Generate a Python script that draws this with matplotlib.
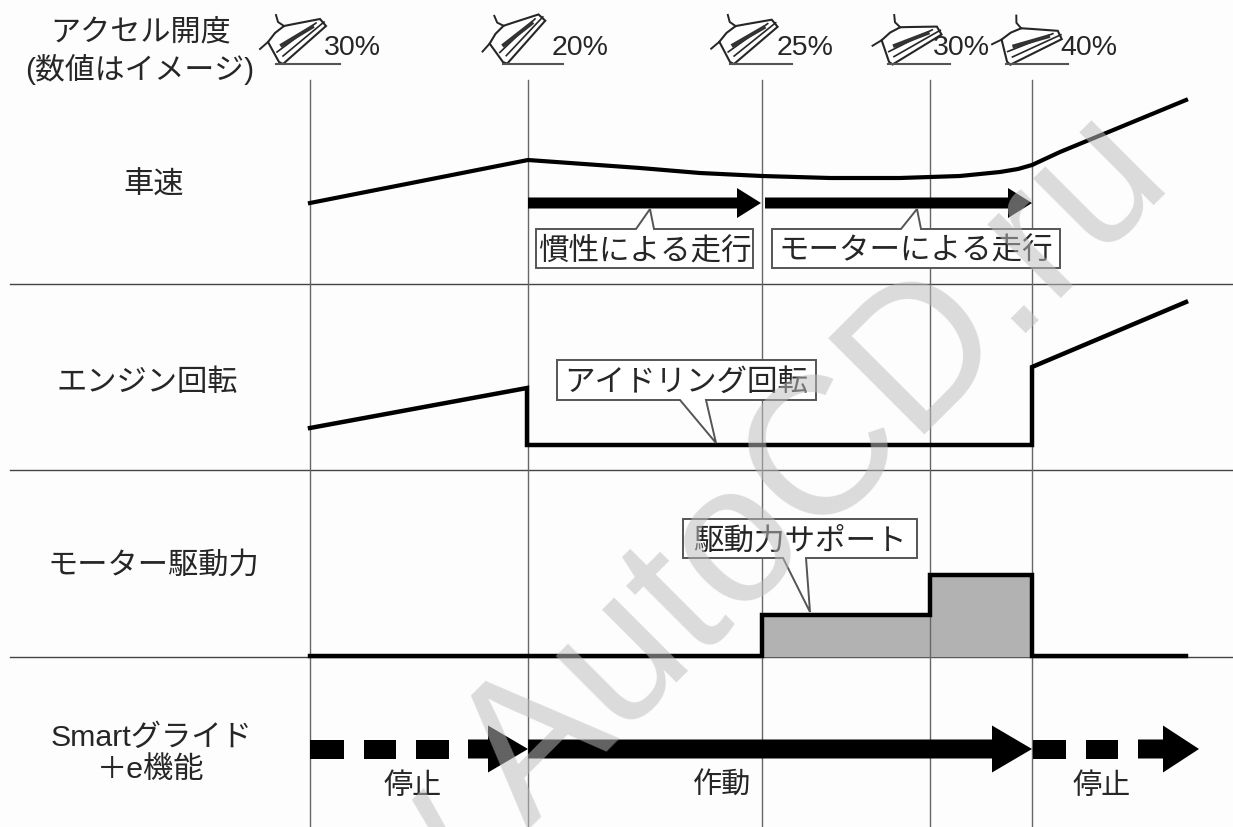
#!/usr/bin/env python3
"""Smart glide +e timing chart, drawn on a pixel-sized axes -> out.png"""
import matplotlib; matplotlib.use("Agg"); import matplotlib.pyplot as plt
from matplotlib.patches import Polygon
from matplotlib.transforms import Affine2D

plt.rcParams["font.family"] = ["Liberation Sans", "Noto Sans CJK JP", "DejaVu Sans"]
W, H = 1233, 827
INK = "#262626"

# event times on the shared x axis (px)
event_x = [310, 528, 762, 930, 1032]
throttle_labels = ["30%", "20%", "25%", "30%", "40%"]
row_labels = ["車速", "エンジン回転", "モーター駆動力", "Smartグライド\n＋e機能"]
row_label_x = [154, 147, 153, 151]
row_label_y = [186, 383, 566, 754]
row_lines_y = [284, 470, 657]

speed_x = [310, 528, 640, 700, 762, 830, 900, 960, 1000, 1018, 1032, 1060, 1186]
speed_y = [203, 160, 168, 173, 176, 178, 178, 176, 172, 169, 165, 152, 100]
engine_x = [310, 527, 527, 1032, 1032, 1186]
engine_y = [428, 388, 445, 445, 367, 302]
motor_x = [310, 762, 762, 930, 930, 1032, 1032, 1186]
motor_y = [656, 656, 615, 615, 575, 575, 656, 656]

state_labels = ["停止", "作動", "停止"]
state_label_x = [413, 722, 1102]


def arrow(ax, x0, x1, y, thick, head_len, head_h, color="black", z=4):
    ax.add_patch(Polygon([(x0, y - thick / 2), (x1 - head_len, y - thick / 2), (x1 - head_len, y - head_h / 2),
                          (x1, y), (x1 - head_len, y + head_h / 2), (x1 - head_len, y + thick / 2),
                          (x0, y + thick / 2)], fc=color, ec="none", zorder=z))


def dash(ax, x0, x1, y, thick):
    ax.add_patch(Polygon([(x0, y - thick / 2), (x1, y - thick / 2), (x1, y + thick / 2), (x0, y + thick / 2)],
                         fc="black", ec="none", zorder=4))


def callout(ax, x0, x1, y0, y1, text, tail, z=6):
    lb, tx, ty, rb = tail
    if ty < y0:
        pts = [(x0, y0), (lb, y0), (tx, ty), (rb, y0), (x1, y0), (x1, y1), (x0, y1)]
    else:
        pts = [(x0, y0), (x1, y0), (x1, y1), (rb, y1), (tx, ty), (lb, y1), (x0, y1)]
    ax.add_patch(Polygon(pts, fc="white", ec="#555555", lw=1.4, zorder=z))
    ax.text((x0 + x1) / 2, (y0 + y1) / 2 + 3, text, ha="center", va="center", fontsize=22, color=INK, zorder=z + 1)


def pedal(ax, x, y, angle):
    # shoe pressing a pedal, x, y is the heel on the floor line
    tr = Affine2D().rotate_deg(angle).translate(x, y) + ax.transData
    shoe = [(-1, 0), (-12, -20), (-5, -29), (4, -36), (14, -38), (40, -43), (46, -36), (3, 2)]
    ax.add_patch(Polygon(shoe, fc="white", ec=INK, lw=1.5, transform=tr, zorder=5))
    ax.plot([3, 44], [-6, -40], color=INK, lw=1.2, transform=tr, zorder=6)
    ax.plot([-3, 36], [-10, -39], color=INK, lw=1.2, transform=tr, zorder=6)
    ax.plot([2, 32], [-17, -35], color="#333333", lw=2.8, transform=tr, zorder=6)
    ax.plot([-12, -20], [-20, -13], color=INK, lw=1.4, transform=tr, zorder=6)
    ax.plot([4, -2, -4], [-36, -40, -47], color=INK, lw=1.4, transform=tr, zorder=6)


def main():
    fig = plt.figure(figsize=(W / 100, H / 100), dpi=100, facecolor="#fdfdfd")
    ax = fig.add_axes([0, 0, 1, 1])
    ax.set_xlim(0, W); ax.set_ylim(H, 0); ax.axis("off")

    for y in row_lines_y:
        ax.plot([10, W], [y, y], color="#444444", lw=1.0, zorder=1)
    for x in event_x:
        ax.plot([x, x], [80, H], color="#666666", lw=1.0, zorder=2)

    # throttle header
    ax.text(141, 32, "アクセル開度", ha="center", va="center", fontsize=21.7, color=INK)
    ax.text(140, 69, "(数値はイメージ)", ha="center", va="center", fontsize=21.5, color=INK)
    pedal_x = [280, 504, 731, 890, 1008]
    pedal_a = [0, -7, 1, 10, 15]
    line_x = [(276, 340), (503, 563), (730, 792), (888, 950), (1006, 1068)]
    label_x = [324, 552, 777, 933, 1060]
    for i, lab in enumerate(throttle_labels):
        pedal(ax, pedal_x[i], 62, pedal_a[i])
        ax.plot(line_x[i], [64, 64], color="#555555", lw=1.5, zorder=6)
        ax.text(label_x[i], 48, lab, ha="left", va="center", fontsize=20.5, color=INK, zorder=6)

    # row labels
    for lab, x, y in zip(row_labels, row_label_x, row_label_y):
        ax.text(x, y, lab, ha="center", va="center", fontsize=21.8, color=INK, linespacing=1.15)

    ax.plot(speed_x, speed_y, color="black", lw=3, zorder=4)
    ax.plot(engine_x, engine_y, color="black", lw=3.2, zorder=4, solid_joinstyle="miter")
    ax.fill_between(motor_x, motor_y, 656, color="#b2b2b2", zorder=1.5)
    ax.plot(motor_x, motor_y, color="black", lw=3.2, zorder=4, solid_joinstyle="miter")

    arrow(ax, event_x[1], event_x[2] - 1, 203, 11, 24, 30)
    arrow(ax, event_x[2] + 3, event_x[4], 203, 11, 24, 30)

    callout(ax, 536, 753, 229, 268, "慣性による走行", (636, 650, 209, 654))
    callout(ax, 772, 1060, 229, 268, "モーターによる走行", (901, 917, 209, 921))
    callout(ax, 557, 816, 360, 400, "アイドリング回転", (680, 716, 443, 706))
    callout(ax, 683, 917, 519, 558, "駆動力サポート", (783, 810, 612, 806))

    # Smart glide state row
    for x0, x1 in [(310, 344), (364, 396), (416, 449)]:
        dash(ax, x0, x1, 749, 19)
    arrow(ax, 468, event_x[1], 749, 19, 40, 47)
    arrow(ax, event_x[1], event_x[4], 749, 19, 40, 47)
    for x0, x1 in [(1033, 1066), (1086, 1118)]:
        dash(ax, x0, x1, 749, 19)
    arrow(ax, 1138, 1199, 749, 19, 36, 47)
    for lab, x in zip(state_labels, state_label_x):
        ax.text(x, 786, lab, ha="center", va="center", fontsize=21, color=INK, zorder=6)

    # watermark over everything, semi transparent so black shows grey through it
    ax.text(1176, 184, "www.AutoCD.ru", ha="right", va="baseline", rotation=45, rotation_mode="anchor",
            fontsize=141, color="#bdbdbd", alpha=0.53, zorder=10, family="Liberation Sans")

    fig.savefig("out.png", dpi=100, facecolor=fig.get_facecolor())


if __name__ == "__main__":
    main()
